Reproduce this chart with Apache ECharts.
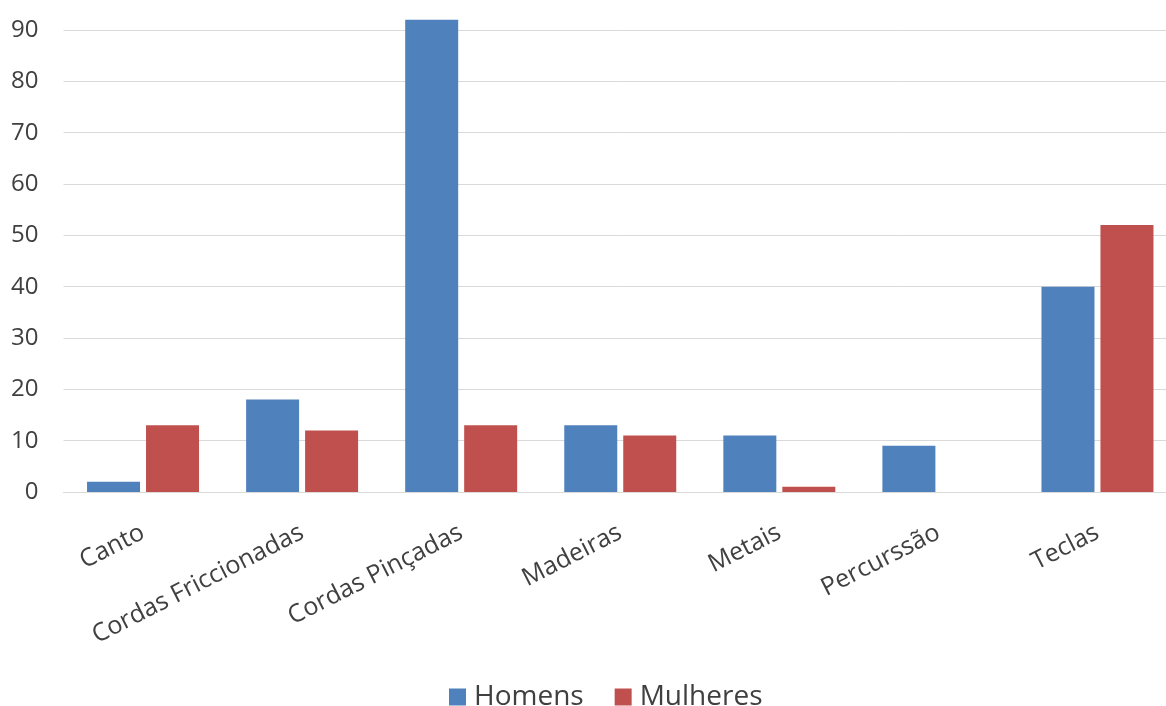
<!DOCTYPE html>
<html>
<head>
<meta charset="utf-8">
<title>Homens e Mulheres por naipe</title>
<script src="https://cdn.jsdelivr.net/npm/echarts@6/dist/echarts.min.js"></script>
<style>
  html, body { margin: 0; padding: 0; background: #ffffff; overflow: hidden; }
  /* the plot runs slightly past the right edge of the page */
  #chart { width: 1177px; height: 706px; }
</style>
</head>
<body>
<div id="chart"></div>
<script>
// Instrument groups (categories)
const categories = ['Canto', 'Cordas Friccionadas', 'Cordas Pinçadas', 'Madeiras', 'Metais', 'Percurssão', 'Teclas'];
// Counts per group
const homens = [2, 18, 92, 13, 11, 9, 40];
const mulheres = [13, 12, 13, 11, 1, 0, 52];
// Series names
const seriesNames = ['Homens', 'Mulheres'];

const FONT = '"Open Sans", "Liberation Sans", sans-serif';
const TEXT_COLOR = '#404040';
const GRID_COLOR = '#d9d9d9';

const chart = echarts.init(document.getElementById('chart'), null, { renderer: 'canvas' });

chart.setOption({
  animation: false,
  backgroundColor: '#ffffff',
  textStyle: { fontFamily: FONT },
  grid: {
    left: 63.5,
    right: 0,
    top: 30,
    bottom: 214,
    containLabel: false
  },
  legend: {
    data: seriesNames,
    left: 444,
    top: 678,
    itemWidth: 17,
    itemHeight: 17,
    itemGap: 31,
    icon: 'rect',
    textStyle: { fontFamily: FONT, fontSize: 28, color: TEXT_COLOR, padding: [0, 0, 0, 3] }
  },
  xAxis: {
    type: 'category',
    data: categories,
    axisLine: { show: true, lineStyle: { color: GRID_COLOR, width: 1 } },
    axisTick: { show: false },
    axisLabel: {
      interval: 0,
      rotate: 27,
      margin: 39,
      fontFamily: FONT,
      fontSize: 25,
      color: TEXT_COLOR
    }
  },
  yAxis: {
    type: 'value',
    min: 0,
    max: 90,
    interval: 10,
    axisLine: { show: false },
    axisTick: { show: false },
    splitLine: { show: true, lineStyle: { color: GRID_COLOR, width: 1 } },
    axisLabel: {
      margin: 25,
      fontFamily: FONT,
      fontSize: 24,
      color: TEXT_COLOR
    }
  },
  series: [
    {
      name: seriesNames[0],
      type: 'bar',
      data: homens,
      clip: false,
      barCategoryGap: '29.6%',
      barGap: '11.3%',
      itemStyle: { color: '#4f81bd' }
    },
    {
      name: seriesNames[1],
      type: 'bar',
      data: mulheres,
      clip: false,
      barCategoryGap: '29.6%',
      barGap: '11.3%',
      itemStyle: { color: '#c0504d' }
    }
  ]
});
</script>
</body>
</html>
